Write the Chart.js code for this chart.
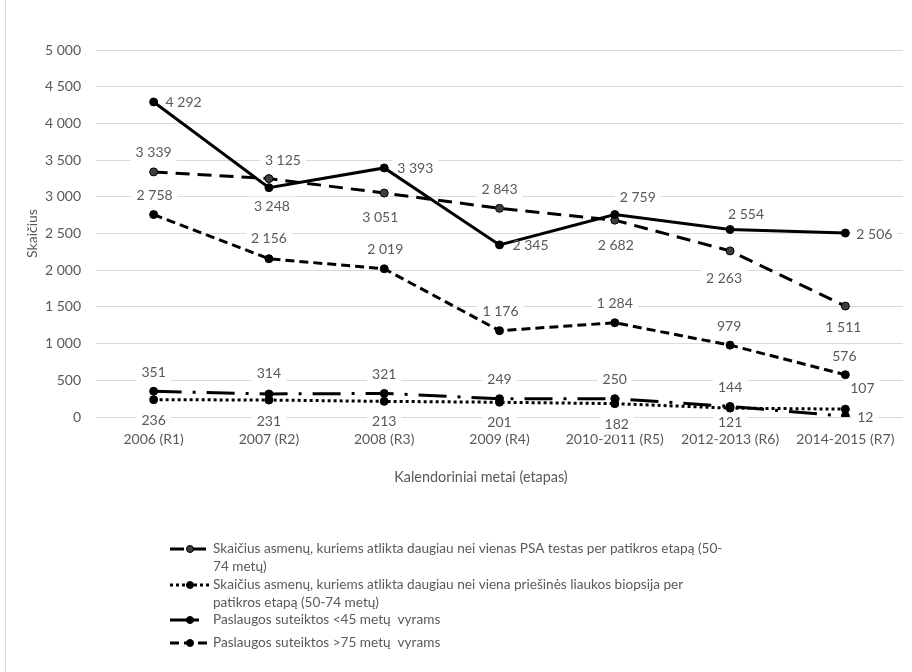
<!DOCTYPE html>
<html>
<head>
<meta charset="utf-8">
<script src="https://cdn.jsdelivr.net/npm/chart.js@4/dist/chart.umd.min.js"></script>
<style>
  html, body { margin: 0; padding: 0; background: #fff; }
  #wrap { position: relative; width: 912px; height: 672px; }
  #wrap:before { content: ''; position: absolute; left: 5px; top: 0; bottom: 0; border-left: 1px solid #d9d9d9; }
  canvas { display: block; }
</style>
</head>
<body>
<div id="wrap"><canvas id="c" width="912" height="672"></canvas></div>
<script>
// Screening stages (x axis)
const categories = ['2006 (R1)', '2007 (R2)', '2008 (R3)', '2009 (R4)', '2010-2011 (R5)', '2012-2013 (R6)', '2014-2015 (R7)'];

// Series values per stage
const servicesUnder45 = [4292, 3125, 3393, 2345, 2759, 2554, 2506];
const psaRepeated     = [3339, 3248, 3051, 2843, 2682, 2263, 1511];
const servicesOver75  = [2758, 2156, 2019, 1176, 1284, 979, 576];
const secondaryCount  = [351, 314, 321, 249, 250, 144, 12];
const biopsyRepeated  = [236, 231, 213, 201, 182, 121, 107];

// Series names
const nameUnder45 = 'Paslaugos suteiktos <45 metų  vyrams';
const namePsa = 'Skaičius asmenų, kuriems atlikta daugiau nei vienas PSA testas per patikros etapą (50-74 metų)';
const nameOver75 = 'Paslaugos suteiktos >75 metų  vyrams';
const nameBiopsy = 'Skaičius asmenų, kuriems atlikta daugiau nei viena priešinės liaukos biopsija per patikros etapą (50-74 metų)';

// Axis titles
const xTitle = 'Kalendoriniai metai (etapas)';
const yTitle = 'Skaičius';

// Y axis range
const yMin = 0, yMax = 5000, yStep = 500;

const FONT = 'Lato, "Open Sans", sans-serif';
const TEXT = '#595959';
const fmt = v => String(v).replace(/\B(?=(\d{3})+(?!\d))/g, ' ');

// Value label placement: offset of the label centre from its point, in px
const labelOffsets = [
  [[30, 1], [14, -27], [31, 1], [31, 1], [23, -17], [16, -15], [29, 1]],
  [[0, -19], [3, 28], [-4, 24], [0, -19], [1, 25], [-6, 28], [-2, 21]],
  [[1, -19], [0, -20], [1, -19], [1, -19], [0, -19], [-1, -19], [-1, -18]],
  [[0, -19], [0, -20], [0, -19], [0, -19], [0, -19], [0, -19], [20, 1]],
  [[0, 21], [0, 21], [0, 20], [0, 20], [2, 21], [0, 14], [17, -21]]
];

const valueLabels = {
  id: 'valueLabels',
  beforeDatasetsDraw(chart) {
    const ctx = chart.ctx;
    ctx.save();
    ctx.font = '14px ' + FONT;
    ctx.fillStyle = '#ffffff';
    chart.data.datasets.forEach((ds, di) => {
      chart.getDatasetMeta(di).data.forEach((pt, i) => {
        const [dx, dy] = labelOffsets[di][i];
        const w = ctx.measureText(fmt(ds.data[i])).width + 10;
        ctx.fillRect(pt.x + dx - w / 2, pt.y + dy - 10, w, 20);
      });
    });
    ctx.restore();
  },
  afterDatasetsDraw(chart) {
    const ctx = chart.ctx;
    ctx.save();
    ctx.font = '14px ' + FONT;
    ctx.fillStyle = TEXT;
    ctx.textAlign = 'center';
    ctx.textBaseline = 'middle';
    chart.data.datasets.forEach((ds, di) => {
      chart.getDatasetMeta(di).data.forEach((pt, i) => {
        const [dx, dy] = labelOffsets[di][i];
        ctx.fillText(fmt(ds.data[i]), pt.x + dx, pt.y + dy);
      });
    });
    ctx.restore();
  }
};

// Horizontal axis title, centred under the whole chart
const xAxisTitle = {
  id: 'xAxisTitle',
  afterDraw(chart) {
    const ctx = chart.ctx;
    ctx.save();
    ctx.font = '14.4px ' + FONT;
    ctx.fillStyle = TEXT;
    ctx.textAlign = 'center';
    ctx.textBaseline = 'middle';
    ctx.fillText(xTitle, 481, 477);
    ctx.restore();
  }
};

// Legend below the chart with wrapped entry text
const legendEntries = [
  { dataset: 1, y: 549, lines: ['Skaičius asmenų, kuriems atlikta daugiau nei vienas PSA testas per patikros etapą (50-', '74 metų)'] },
  { dataset: 4, y: 585, lines: ['Skaičius asmenų, kuriems atlikta daugiau nei viena priešinės liaukos biopsija per', 'patikros etapą (50-74 metų)'] },
  { dataset: 0, y: 620, lines: ['Paslaugos suteiktos <45 metų  vyrams'], short: true },
  { dataset: 2, y: 643, lines: ['Paslaugos suteiktos >75 metų  vyrams'] }
];

const wrappedLegend = {
  id: 'wrappedLegend',
  afterDraw(chart) {
    const ctx = chart.ctx;
    ctx.save();
    legendEntries.forEach(e => {
      const ds = chart.data.datasets[e.dataset];
      ctx.strokeStyle = ds.borderColor;
      ctx.lineWidth = ds.borderWidth;
      ctx.setLineDash(ds.borderDash || []);
      ctx.beginPath();
      ctx.moveTo(170, e.y);
      ctx.lineTo(e.short ? 199 : 210, e.y);
      ctx.stroke();
      ctx.setLineDash([]);
      ctx.fillStyle = ds.pointBackgroundColor;
      ctx.strokeStyle = ds.pointBorderColor;
      ctx.lineWidth = 1;
      ctx.beginPath();
      ctx.arc(190, e.y, 3.5, 0, Math.PI * 2);
      ctx.fill();
      ctx.stroke();
      ctx.font = '13.6px ' + FONT;
      ctx.fillStyle = TEXT;
      ctx.textAlign = 'left';
      ctx.textBaseline = 'middle';
      e.lines.forEach((t, k) => ctx.fillText(t, 213, e.y + k * 18));
    });
    ctx.restore();
  }
};

const line = (label, data, dash, pointFill) => ({
  label, data,
  borderColor: '#000000',
  borderWidth: 3,
  borderDash: dash,
  pointRadius: 4,
  pointBackgroundColor: pointFill,
  pointBorderColor: '#000000',
  pointBorderWidth: 1,
  tension: 0,
  fill: false
});

new Chart(document.getElementById('c'), {
  type: 'line',
  data: {
    labels: categories,
    datasets: [
      line(nameUnder45, servicesUnder45, [], '#000000'),
      line(namePsa, psaRepeated, [14, 8], '#3f3f3f'),
      line(nameOver75, servicesOver75, [9, 5], '#000000'),
      line('', secondaryCount, [28, 11, 3, 11], '#000000'),
      line(nameBiopsy, biopsyRepeated, [3, 3], '#000000')
    ]
  },
  options: {
    responsive: false,
    animation: false,
    devicePixelRatio: 1,
    layout: { padding: { left: 0, right: 9, top: 50, bottom: 0 } },
    plugins: { legend: { display: false }, tooltip: { enabled: false } },
    scales: {
      x: {
        offset: true,
        grid: { display: false, offset: true },
        border: { display: false },
        ticks: { color: TEXT, font: { family: FONT, size: 14 }, padding: 6, maxRotation: 0, autoSkip: false },
        afterFit: s => { s.height = 255; }
      },
      y: {
        min: yMin, max: yMax,
        ticks: { stepSize: yStep, color: TEXT, font: { family: FONT, size: 14 }, padding: 15, callback: v => fmt(v) },
        grid: { color: '#d9d9d9', lineWidth: 1, drawTicks: false },
        border: { display: false },
        title: { display: true, text: yTitle, color: TEXT, font: { family: FONT, size: 14 }, padding: { top: 24, bottom: 0 } },
        afterFit: s => { s.width = 96; }
      }
    }
  },
  plugins: [valueLabels, xAxisTitle, wrappedLegend]
});
</script>
</body>
</html>
